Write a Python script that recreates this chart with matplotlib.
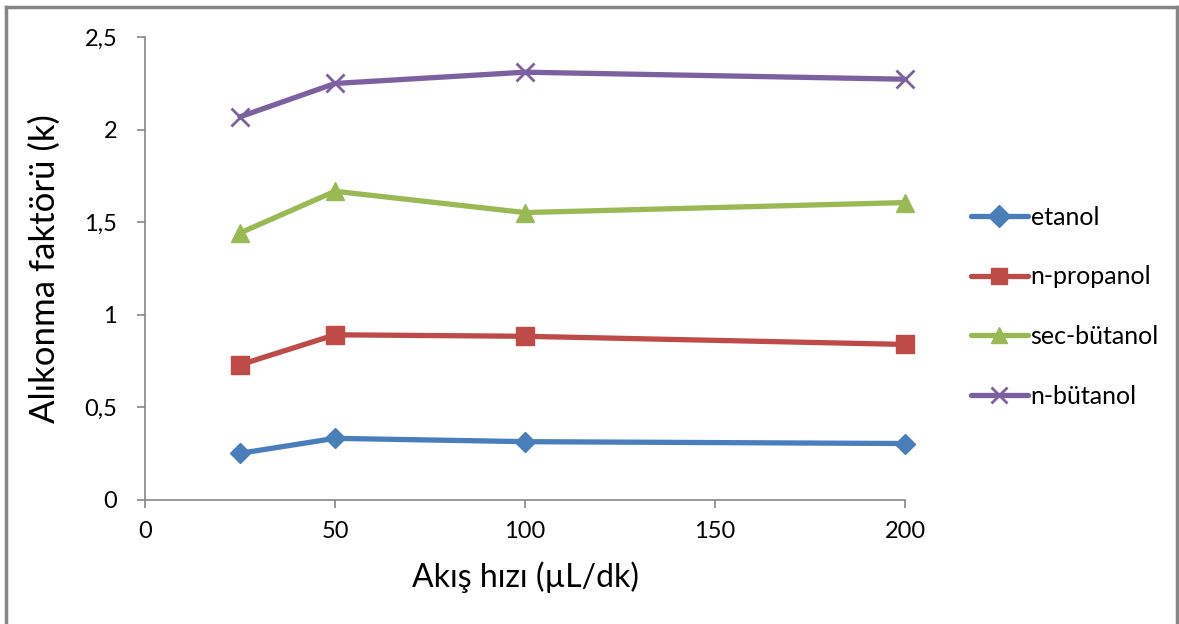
import matplotlib
matplotlib.use('Agg')
from matplotlib import pyplot as plt
from matplotlib.ticker import FuncFormatter
from matplotlib.lines import Line2D

plt.rcParams['font.family'] = ['Lato', 'DejaVu Sans']

#### D A T A
flow_rate = [25, 50, 100, 200]
etanol = [0.252, 0.333, 0.315, 0.305]
n_propanol = [0.730, 0.892, 0.884, 0.840]
sec_butanol = [1.442, 1.667, 1.552, 1.606]
n_butanol = [2.069, 2.249, 2.310, 2.272]

labels = ['etanol', 'n-propanol', 'sec-bütanol', 'n-bütanol']
colors = ['#4a7ebb', '#be4b48', '#98b954', '#7d60a0']
markers = ['D', 's', '^', 'x']
msizes = [10, 13, 13, 13]

#### P L O T
fig = plt.figure(figsize=(11.79, 6.24), dpi=100)
ax = fig.add_axes([145 / 1179, 1 - 500 / 624, 760 / 1179, 463 / 624])

for vals, lab, col, mk, ms in zip([etanol, n_propanol, sec_butanol, n_butanol],
                                  labels, colors, markers, msizes):
    ax.plot(flow_rate, vals, color=col, lw=3.8, marker=mk, markersize=ms,
            markeredgewidth=2 if mk == 'x' else 1, markeredgecolor=col,
            label=lab, solid_capstyle='round', solid_joinstyle='round')

ax.set_xlim(0, 200)
ax.set_ylim(0, 2.5)
ax.set_xticks([0, 50, 100, 150, 200])
ax.set_yticks([0, 0.5, 1, 1.5, 2, 2.5])
ax.yaxis.set_major_formatter(FuncFormatter(lambda v, p: f'{v:g}'.replace('.', ',')))

for s in ['top', 'right']:
    ax.spines[s].set_visible(False)
for s in ['left', 'bottom']:
    ax.spines[s].set_color('#868686')
    ax.spines[s].set_linewidth(1.2)
ax.tick_params(direction='out', length=6, width=1.2, color='#868686',
               labelsize=17)
ax.tick_params(axis='y', pad=14)
ax.tick_params(axis='x', pad=9)
ax.set_xlabel('Akış hızı (µL/dk)', fontsize=23, labelpad=14)
ax.set_ylabel('Alıkonma faktörü (k)', fontsize=25, labelpad=17)
for ln in ax.lines:
    ln.set_clip_on(False)

leg = fig.legend(loc='upper left', bbox_to_anchor=(948 / 1179, 1 - 183 / 624),
                 frameon=False, fontsize=18, labelspacing=1.47,
                 handlelength=2.3, handletextpad=0.1)
for h in leg.legend_handles:
    h.set_markersize(11)

# outer chart border
border = dict(color='#868686', lw=2.5, transform=fig.transFigure)
fig.add_artist(Line2D([6 / 1179, 6 / 1179], [0, 1 - 7 / 624], **border))
fig.add_artist(Line2D([6 / 1179, 1177 / 1179], [1 - 7 / 624, 1 - 7 / 624], **border))
fig.add_artist(Line2D([1177 / 1179, 1177 / 1179], [0, 1 - 7 / 624], **border))

plt.savefig('out.png', dpi=100)
